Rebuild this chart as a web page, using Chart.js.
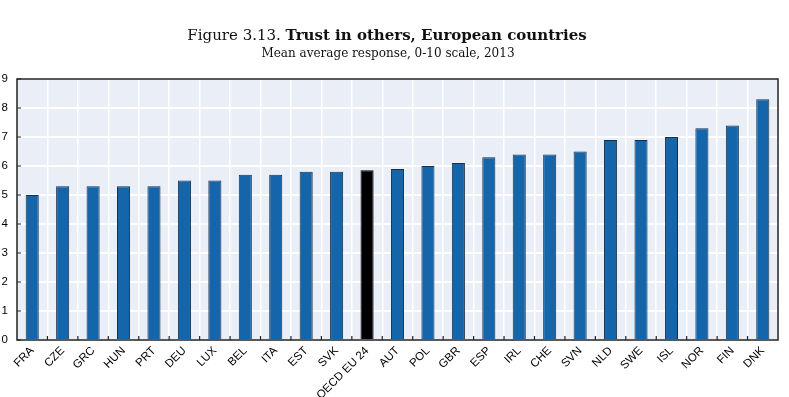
<!DOCTYPE html>
<html>
<head>
<meta charset="utf-8">
<script src="https://cdn.jsdelivr.net/npm/chart.js@4.4.0/dist/chart.umd.min.js"></script>
<style>
  html, body { margin: 0; padding: 0; background: #fff; }
  #wrap { width: 789px; height: 397px; position: relative; }
</style>
</head>
<body>
<div id="wrap"><canvas id="trust"></canvas></div>
<script>
const countries = ['FRA','CZE','GRC','HUN','PRT','DEU','LUX','BEL','ITA','EST','SVK','OECD EU 24','AUT','POL','GBR','ESP','IRL','CHE','SVN','NLD','SWE','ISL','NOR','FIN','DNK'];
const trustScores = [5.0, 5.3, 5.3, 5.3, 5.3, 5.5, 5.5, 5.7, 5.7, 5.8, 5.8, 5.85, 5.9, 6.0, 6.1, 6.3, 6.4, 6.4, 6.5, 6.9, 6.9, 7.0, 7.3, 7.4, 8.3];
const yTicks = [0, 1, 2, 3, 4, 5, 6, 7, 8, 9];
const titleRegular = 'Figure 3.13. ';
const titleBold = 'Trust in others, European countries';
const subtitle = 'Mean average response, 0-10 scale, 2013';

const blue = '#1565aa';
const fills = countries.map(c => c === 'OECD EU 24' ? '#000000' : blue);
const borders = countries.map(c => c === 'OECD EU 24' ? '#000000' : '#16304a');

// background of the plot area, title, frame and inward tick marks
const decor = {
  id: 'decor',
  beforeDraw(chart) {
    const { ctx, chartArea: a } = chart;
    ctx.save();
    ctx.fillStyle = '#eaeff7';
    ctx.fillRect(a.left, a.top, a.right - a.left, a.bottom - a.top);
    ctx.restore();
  },
  afterDraw(chart) {
    const { ctx, chartArea: a, scales } = chart;
    ctx.save();
    // title
    ctx.fillStyle = '#111';
    ctx.textBaseline = 'alphabetic';
    ctx.font = '15px "DejaVu Serif"';
    const w1 = ctx.measureText(titleRegular).width;
    ctx.font = 'bold 15px "DejaVu Serif"';
    const w2 = ctx.measureText(titleBold).width;
    let x = 387 - (w1 + w2) / 2;
    ctx.font = '15px "DejaVu Serif"';
    ctx.fillText(titleRegular, x, 40);
    ctx.font = 'bold 15px "DejaVu Serif"';
    ctx.fillText(titleBold, x + w1, 40);
    ctx.font = '12px "DejaVu Serif"';
    ctx.textAlign = 'center';
    ctx.fillText(subtitle, 388, 57);

    // frame
    ctx.strokeStyle = '#222';
    ctx.lineWidth = 1.5;
    ctx.strokeRect(a.left, a.top, a.right - a.left, a.bottom - a.top);

    // inward tick marks
    ctx.lineWidth = 1.2;
    ctx.beginPath();
    yTicks.forEach(v => {
      const y = scales.y.getPixelForValue(v);
      ctx.moveTo(a.left, y);
      ctx.lineTo(a.left + 4, y);
    });
    for (let i = 0; i < countries.length - 1; i++) {
      const xm = (scales.x.getPixelForValue(i) + scales.x.getPixelForValue(i + 1)) / 2;
      ctx.moveTo(xm, a.bottom);
      ctx.lineTo(xm, a.bottom - 4);
    }
    ctx.stroke();
    ctx.restore();
  }
};

new Chart(document.getElementById('trust'), {
  type: 'bar',
  data: {
    labels: countries,
    datasets: [{
      data: trustScores,
      backgroundColor: fills,
      borderColor: borders,
      borderWidth: 1,
      categoryPercentage: 1,
      barPercentage: 0.43
    }]
  },
  options: {
    responsive: true,
    maintainAspectRatio: false,
    animation: false,
    layout: { padding: { top: 79, right: 11, left: 0, bottom: 0 } },
    plugins: {
      legend: { display: false },
      tooltip: { enabled: false }
    },
    scales: {
      x: {
        offset: true,
        grid: { offset: true, color: '#ffffff', lineWidth: 1.5, drawTicks: false },
        border: { display: false },
        ticks: {
          color: '#000',
          font: { family: 'Liberation Sans', size: 11.5 },
          minRotation: 45,
          maxRotation: 45,
          autoSkip: false,
          padding: 4
        },
        afterFit(scale) { scale.height = 57; }
      },
      y: {
        min: 0,
        max: 9,
        grid: { color: '#ffffff', lineWidth: 2, drawTicks: false },
        border: { display: false },
        ticks: {
          stepSize: 1,
          color: '#000',
          font: { family: 'Liberation Sans', size: 11.5 },
          padding: 9
        },
        afterFit(scale) { scale.width = 17; }
      }
    }
  },
  plugins: [decor]
});
</script>
</body>
</html>
